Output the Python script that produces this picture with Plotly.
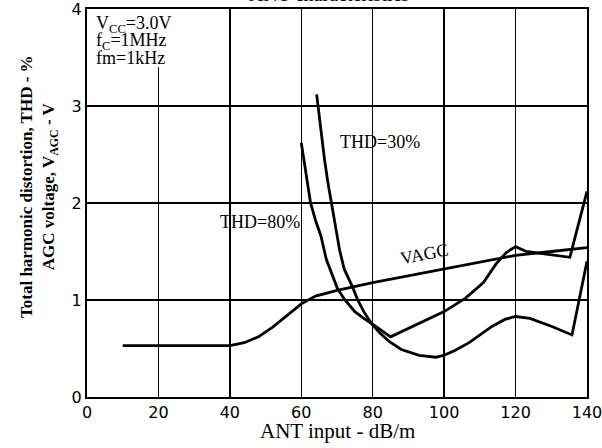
import plotly.graph_objects as go

# ---- data ----
vagc_x = [10, 40, 44, 48, 52, 56, 60, 64, 70, 80, 90, 100, 110, 120, 130, 140]
vagc_y = [0.53, 0.53, 0.56, 0.62, 0.72, 0.84, 0.96, 1.04, 1.10, 1.18, 1.25, 1.32, 1.39, 1.46, 1.50, 1.54]

thd80_x = [60, 61, 62, 62.6, 64, 65.5, 67, 69, 70.1, 72, 75, 77.5, 79.6, 85,
           100, 106, 111, 114.5, 117.4, 120, 123, 127, 131, 135.2, 140]
thd80_y = [2.62, 2.38, 2.15, 2.0, 1.82, 1.66, 1.42, 1.22, 1.12, 1.01, 0.88, 0.81, 0.76, 0.62,
           0.88, 1.02, 1.18, 1.37, 1.49, 1.55, 1.50, 1.48, 1.46, 1.44, 2.12]

thd30_x = [64.3, 65.5, 66.5, 67.5, 68.4, 69.5, 70.7, 72, 74.4, 75.8, 77.5, 79.6, 82, 84.7,
           88, 93, 97.7, 100, 103, 107, 110, 113.5, 117, 120, 124, 130, 135.8, 140]
thd30_y = [3.12, 2.75, 2.45, 2.2, 2.0, 1.78, 1.52, 1.32, 1.13, 1.0, 0.88, 0.76, 0.66, 0.57,
           0.49, 0.43, 0.41, 0.43, 0.48, 0.56, 0.64, 0.73, 0.80, 0.83, 0.81, 0.73, 0.64, 1.40]

x_ticks = [0, 20, 40, 60, 80, 100, 120, 140]
y_ticks = [0, 1, 2, 3, 4]

SERIF = "Liberation Serif"
SANS = "DejaVu Sans"

fig = go.Figure()
for xs, ys, nm in [(vagc_x, vagc_y, "VAGC"), (thd80_x, thd80_y, "THD=80%"), (thd30_x, thd30_y, "THD=30%")]:
    fig.add_trace(go.Scatter(x=xs, y=ys, mode="lines", name=nm, hoverinfo="skip",
                             line=dict(color="black", width=2.8), showlegend=False))

# white block behind the condition text (hides the gridline there)
fig.add_shape(type="rect", xref="x", yref="y", x0=0, x1=25, y0=3.4, y1=4,
              fillcolor="white", line=dict(width=0), layer="between")

cond = [
    dict(y=3.84, text="V<sub>CC</sub>=3.0V"),
    dict(y=3.67, text="f<sub>C</sub>=1MHz"),
    dict(y=3.50, text="fm=1kHz"),
]
for a in cond:
    fig.add_annotation(x=2, y=a["y"], text=a["text"], xref="x", yref="y",
                       xanchor="left", yanchor="middle", showarrow=False,
                       font=dict(family=SERIF, size=18, color="black"))

fig.add_annotation(x=81.9, y=2.63, text="THD=30%", xref="x", yref="y", showarrow=False,
                   font=dict(family=SERIF, size=18, color="black"))
fig.add_annotation(x=48.3, y=1.80, text="THD=80%", xref="x", yref="y", showarrow=False,
                   font=dict(family=SERIF, size=18, color="black"))
fig.add_annotation(x=94.5, y=1.47, text="VAGC", xref="x", yref="y", showarrow=False,
                   textangle=-11, font=dict(family=SERIF, size=18, color="black"))

# chart title (cut off by the top edge in the reference)
fig.add_annotation(x=0.484, y=1.005, xref="paper", yref="paper", text="ANT characteristics",
                   yanchor="bottom", showarrow=False,
                   font=dict(family=SERIF, size=20, color="black"))
# axis titles
fig.add_annotation(x=0.5, y=-0.0876, xref="paper", yref="paper", text="ANT input - dB/m",
                   xanchor="center", yanchor="middle", showarrow=False,
                   font=dict(family=SERIF, size=21, color="black"))
fig.add_annotation(x=-(87 - 39) / 500, y=(397 - 187) / 388, xref="paper", yref="paper",
                   text="<b>Total harmonic distortion, THD - %<br>AGC voltage, V<sub>AGC</sub> - V</b>",
                   textangle=-90, xanchor="center", yanchor="middle", showarrow=False,
                   font=dict(family=SERIF, size=17, color="black"))

fig.update_xaxes(range=[0, 140], tickvals=x_ticks, ticktext=[str(v) for v in x_ticks],
                 showgrid=True, gridcolor="black", gridwidth=1.5, zeroline=False,
                 showline=True, linecolor="black", linewidth=2, mirror=True, automargin=False,
                 ticklabeloverflow="allow",
                 ticks="", tickfont=dict(family=SANS, size=16, color="black"))
fig.update_yaxes(range=[0, 4], tickvals=y_ticks, ticktext=[str(v) for v in y_ticks],
                 showgrid=True, gridcolor="black", gridwidth=1.5, zeroline=False,
                 showline=True, linecolor="black", linewidth=2, mirror=True, automargin=False,
                 ticklabeloverflow="allow",
                 ticks="", tickfont=dict(family=SANS, size=16, color="black"))

fig.update_layout(width=602, height=448, margin=dict(l=87, r=15, t=9, b=51),
                  paper_bgcolor="white", plot_bgcolor="white", showlegend=False,
                  hovermode=False)

fig.write_html("out.html", config={"displayModeBar": False, "staticPlot": True},
               post_script="document.body.style.margin='0';")
